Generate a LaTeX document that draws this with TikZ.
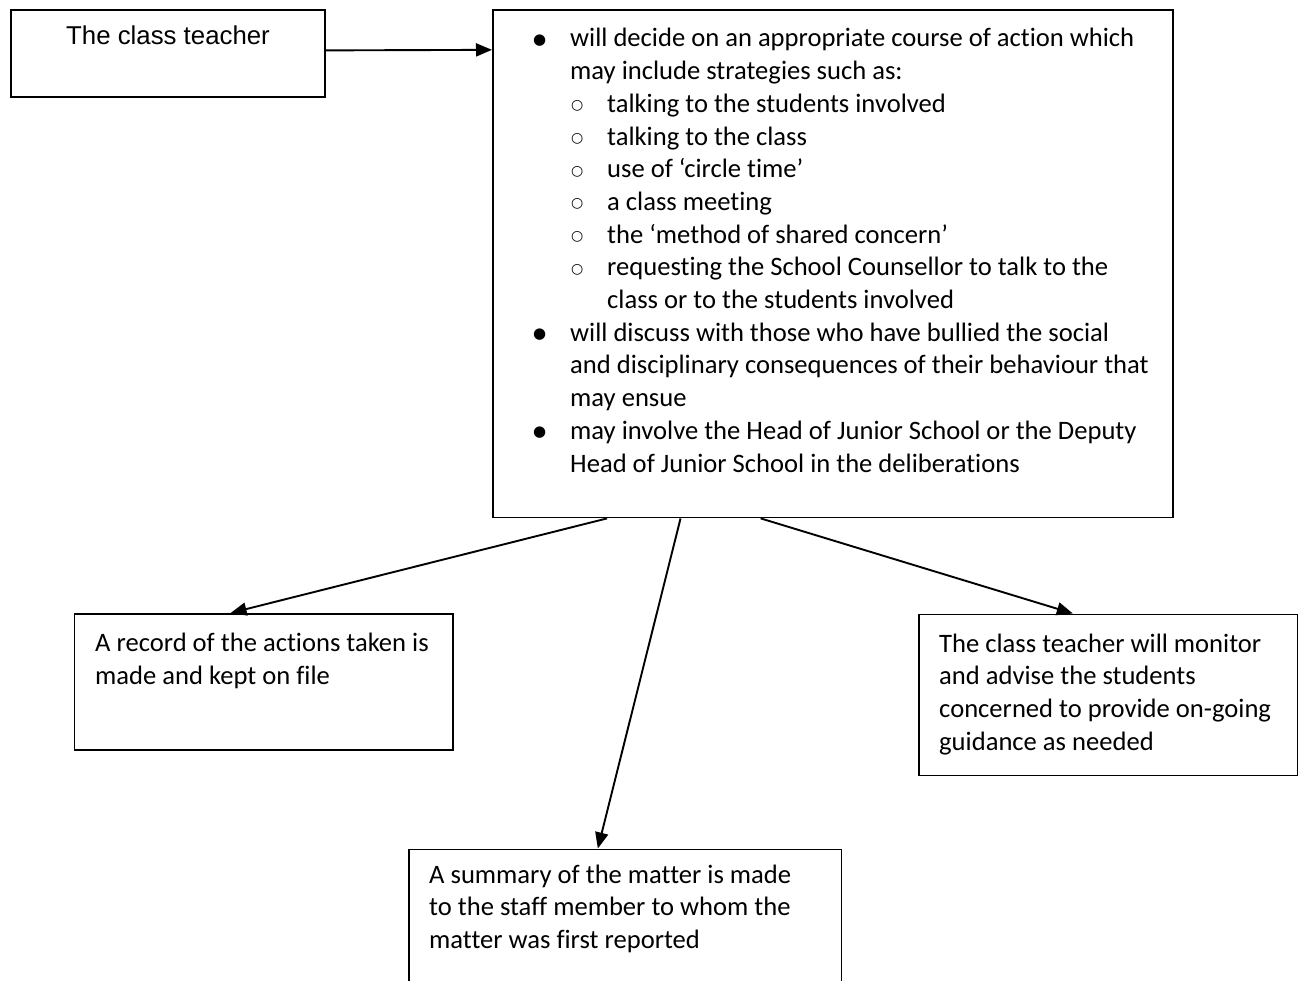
\documentclass[tikz,border=0pt]{standalone}
\usepackage{fontspec}
\newfontfamily\calfont[Ligatures={NoCommon}]{Carlito}
\newfontfamily\arialfont{Liberation Sans}
\newfontfamily\symfont{DejaVu Sans}
\usetikzlibrary{calc,arrows.meta}
\newcommand\bu{\makebox[37pt][l]{\raisebox{2.5pt}{\symfont\fontsize{15}{32.7}\selectfont ●}}}
\newcommand\so{\hspace*{38pt}\makebox[36pt][l]{\raisebox{2.5pt}{\symfont\fontsize{14}{32.7}\selectfont ○}}}
\newcommand\ci{\hspace*{37pt}}
\newcommand\cii{\hspace*{74pt}}
\tikzset{
  box/.style={draw, line width=1.9pt, inner sep=0pt, anchor=north west},
  txt/.style={inner sep=0pt, anchor=base west, font={\calfont\fontsize{26.6}{32.7}\selectfont}},
  arr/.style={line width=1.9pt, -{Triangle[length=16pt,width=13pt]}}
}
\begin{document}
\begin{tikzpicture}[x=1pt,y=-1pt]
\clip (0,0) rectangle (1300,981);
\fill[white] (0,0) rectangle (1300,981);
% boxes
\node[box, minimum width=314pt, minimum height=87pt] (teacher) at (10,9.5) {};
\node[box, minimum width=680pt, minimum height=507pt] (big) at (492,9.5) {};
\node[box, minimum width=378.5pt, minimum height=136pt] (rec) at (73.5,613) {};
\node[box, minimum width=378.5pt, minimum height=161pt] (mon) at (918,613.5) {};
\node[box, minimum width=432.5pt, minimum height=200pt] (sum) at (408,848.5) {};
% texts
\node[inner sep=0pt, anchor=base west, font={\arialfont\fontsize{25.8}{30}\selectfont}] (tteacher) at (66,45) {The class teacher};
\node[txt] (tbig) at (533,47) {\parbox[t]{640pt}{%
\bu will decide on an appropriate course of action which\\
\ci may include strategies such as:\\
\so talking to the students involved\\
\so talking to the class\\
\so use of ‘circle time’\\
\so a class meeting\\
\so the ‘method of shared concern’\\
\so requesting the School Counsellor to talk to the\\
\cii class or to the students involved\\
\bu will discuss with those who have bullied the social\\
\ci and disciplinary consequences of their behaviour that\\
\ci may ensue\\
\bu may involve the Head of Junior School or the Deputy\\
\ci Head of Junior School in the deliberations}};
\node[txt] (trec) at (95,651.5) {\parbox[t]{350pt}{A record of the actions taken is\\made and kept on file}};
\node[txt] (tmon) at (939,652) {\parbox[t]{350pt}{The class teacher will monitor\\and advise the students\\concerned to provide on-going\\guidance as needed}};
\node[txt] (tsum) at (429,883) {\parbox[t]{400pt}{A summary of the matter is made\\to the staff member to whom the\\matter was first reported}};
% connectors
\draw[arr] ($(teacher.north east)!0.46!(teacher.south east)$) -- ($(big.north west)!0.0793!(big.south west)$);
\draw[arr] ($(big.south west)!0.1687!(big.south east)$) -- ($(rec.north west)!0.413!(rec.north east)$);
\draw[arr] ($(big.south west)!0.2765!(big.south east)$) -- ($(sum.north west)!0.437!(sum.north east)$);
\draw[arr] ($(big.south west)!0.394!(big.south east)$) -- ($(mon.north west)!0.407!(mon.north east)$);
\end{tikzpicture}
\end{document}
